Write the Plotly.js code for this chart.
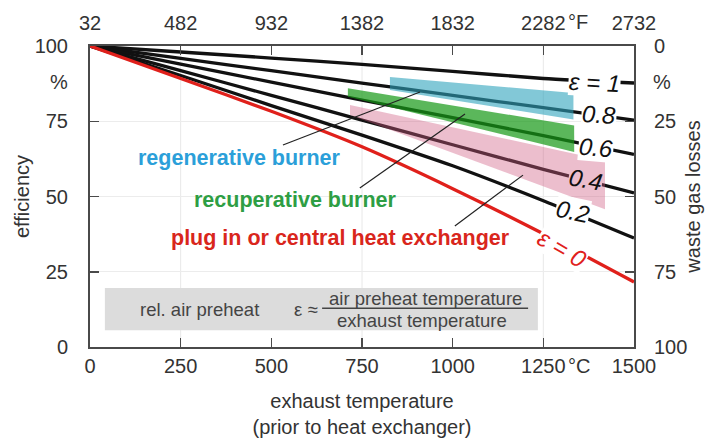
<!DOCTYPE html>
<html><head><meta charset="utf-8">
<script src="https://cdn.plot.ly/plotly-3.0.1.min.js"></script>
<style>html,body{margin:0;padding:0;background:#fff}#chart{width:721px;height:438px}</style>
</head><body><div id="chart"></div>
<script>
// ---- data ----
const tempC   = [0, 250, 500, 750, 1000, 1250, 1500];
const effEps0 = [100, 89.2, 78.3, 66.5, 52.6, 37.6, 21.6];
const effEps02= [100, 90.2, 80.2, 70.4, 60.2, 48.6, 36.2];
const effEps04= [100, 91.8, 83.6, 75.4, 67.2, 59.0, 51.2];
const effEps06= [100, 94.0, 88.0, 82.0, 76.2, 70.2, 64.0];
const effEps08= [100, 95.9, 91.8, 87.7, 83.6, 79.5, 75.4];
const effEps1 = [100, 98.0, 96.0, 93.9, 91.6, 89.2, 87.7];

const regenX = [827, 1333], regenTop = [89.7, 84.4], regenBot = [85.4, 75.6];
const recupX = [711, 1335], recupTop = [86.0, 73.6], recupBot = [83.1, 64.8];
const plugX  = [717, 1420], plugTop  = [80.4, 62.0], plugBot  = [77.1, 45.8];

const bottomTickVals = [0, 250, 500, 750, 1000, 1250, 1500];
const bottomTickText = ['0', '250', '500', '750', '1000', '1250', '1500'];
const topTickVals = [32, 482, 932, 1382, 1832, 2282, 2732];
const topTickText = ['32', '482', '932', '1382', '1832', '2282', '2732'];
const effTicks  = [0, 25, 50, 75, 100];
const lossTicks = [0, 25, 50, 75, 100];
const gridC = [250, 750, 1250];

// ---- styling ----
const FONT = 'Liberation Sans, Arial, Helvetica, sans-serif';
const TXT = '#333333';
const AX = '#4a4a4a';

function curve(y, color) {
  return {x: tempC, y: y, type: 'scatter', mode: 'lines',
    line: {color: color, width: 3.3, shape: 'spline', smoothing: 0.6},
    hoverinfo: 'skip', showlegend: false};
}
function band(xs, top, bot, fill) {
  return {x: [xs[0], xs[1], xs[1], xs[0]], y: [top[0], top[1], bot[1], bot[0]],
    type: 'scatter', mode: 'lines', fill: 'toself', fillcolor: fill,
    line: {width: 0}, hoverinfo: 'skip', showlegend: false};
}

const traces = [
  curve(effEps1, '#111111'),
  curve(effEps08, '#111111'),
  curve(effEps06, '#111111'),
  curve(effEps04, '#111111'),
  curve(effEps02, '#111111'),
  curve(effEps0, '#e0201b'),
  band(regenX, regenTop, regenBot, 'rgba(47,163,188,0.6)'),
  band(recupX, recupTop, recupBot, 'rgba(22,153,22,0.7)'),
  band(plugX, plugTop, plugBot, 'rgba(207,92,130,0.4)'),
  {x: [], y: [], xaxis: 'x2', yaxis: 'y2', type: 'scatter', mode: 'lines',
   hoverinfo: 'skip', showlegend: false}
];

const shapes = [];
gridC.forEach(v => shapes.push({type: 'line', xref: 'x', yref: 'paper', x0: v, x1: v, y0: 0, y1: 1,
  line: {color: '#e8e8e8', width: 1}, layer: 'below'}));
shapes.push({type: 'rect', xref: 'x', yref: 'y', x0: 41, x1: 1235, y0: 5.6, y1: 19.6,
  fillcolor: '#dcdcdc', line: {width: 0}, layer: 'below'});
shapes.push({type: 'line', xref: 'x', yref: 'y', x0: 640, x1: 1208, y0: 12.9, y1: 12.9,
  line: {color: '#444', width: 1.5}});
// callout lines
const callouts = [
  [532, 67.1, 910, 84.7],
  [744, 52.8, 1034, 77.4],
  [1006, 40.2, 1194, 57.1]
];
callouts.forEach(c => shapes.push({type: 'line', xref: 'x', yref: 'y', x0: c[0], y0: c[1], x1: c[2], y1: c[3],
  line: {color: '#222', width: 1.2}}));

function ann(text, x, y, opts) {
  return Object.assign({text: text, x: x, y: y, xref: 'x', yref: 'y', showarrow: false,
    font: {family: FONT, size: 20, color: TXT}}, opts || {});
}
const lblFont = {family: FONT, size: 24, color: '#111'};
const boxFont = {family: FONT, size: 18.5, color: '#444'};
const annotations = [
  // line labels
  ann('<i>ε = 1</i>', 1392, 88.0, {font: lblFont, bgcolor: '#fff', borderpad: 0, textangle: 3}),
  ann('<i>0.8</i>', 1403, 77.1, {font: lblFont, bgcolor: '#fff', borderpad: 0, textangle: 3}),
  ann('<i>0.6</i>', 1394, 66.4, {font: lblFont, bgcolor: '#fff', borderpad: 0, textangle: 5}),
  ann('<i>0.4</i>', 1367, 55.5, {font: lblFont, bgcolor: 'rgb(236,190,205)', borderpad: 0, textangle: 10}),
  ann('<i>0.2</i>', 1331, 44.9, {font: lblFont, bgcolor: '#fff', borderpad: 0, textangle: 12}),
  ann('<i>ε = 0</i>', 1301, 32.6, {font: {family: FONT, size: 24, color: '#e0201b'}, bgcolor: '#fff', borderpad: 0, textangle: 30}),
  // burner labels
  ann('<b>regenerative burner</b>', 413, 62.8, {font: {family: FONT, size: 21.5, color: '#2b9fd9'}}),
  ann('<b>recuperative burner</b>', 566, 48.8, {font: {family: FONT, size: 21.5, color: '#2e9e44'}}),
  ann('<b>plug in or central heat exchanger</b>', 692, 36.2, {font: {family: FONT, size: 21.5, color: '#d9261c'}}),
  // box texts
  ann('rel. air preheat', 303, 12.6, {font: boxFont, borderpad: 0}),
  ann('ε ≈', 596, 12.6, {font: boxFont, borderpad: 0}),
  ann('air preheat temperature', 924, 16.0, {font: boxFont, borderpad: 0}),
  ann('exhaust temperature', 915, 8.8, {font: boxFont, borderpad: 0}),
  // units
  ann('%', 0, 88, {xref: 'paper', xanchor: 'right', xshift: -20}),
  ann('%', 1, 88, {xref: 'paper', xanchor: 'left', xshift: 17}),
  ann('°C', 1250, 0, {yref: 'paper', y: 0, yanchor: 'middle', xanchor: 'left', xshift: 23, yshift: -19}),
  ann('°F', 2282, 1, {xref: 'x2', yref: 'paper', y: 1, yanchor: 'middle', xanchor: 'left', xshift: 23, yshift: 24})
];

const axBase = {showline: true, linecolor: AX, linewidth: 2, ticks: 'inside', ticklen: 9,
  tickcolor: AX, tickwidth: 1.5, zeroline: false, tickfont: {family: FONT, size: 20, color: TXT},
  fixedrange: true};

const layout = {
  width: 721, height: 438,
  margin: {l: 90, r: 87, t: 46, b: 91},
  paper_bgcolor: '#fff', plot_bgcolor: 'rgba(0,0,0,0)',
  font: {family: FONT, size: 20, color: TXT},
  showlegend: false,
  xaxis: Object.assign({}, axBase, {range: [0, 1500], tickmode: 'array', tickvals: bottomTickVals,
    ticktext: bottomTickText, showgrid: false, ticklabelstandoff: 0,
    title: {text: 'exhaust temperature<br>(prior to heat exchanger)', font: {family: FONT, size: 20, color: TXT}, standoff: 18}}),
  xaxis2: Object.assign({}, axBase, {range: [32, 2732], overlaying: 'x', side: 'top', anchor: 'y2',
    tickmode: 'array', tickvals: topTickVals, ticktext: topTickText, showgrid: false, ticklabelstandoff: 6}),
  yaxis: Object.assign({}, axBase, {range: [0, 100], tickmode: 'array', tickvals: effTicks,
    showgrid: true, gridcolor: '#ececec', gridwidth: 1, ticklabelstandoff: 16,
    title: {text: 'efficiency', font: {family: FONT, size: 20, color: TXT}, standoff: 0}}),
  yaxis2: Object.assign({}, axBase, {range: [100, 0], overlaying: 'y', side: 'right', anchor: 'x2',
    tickmode: 'array', tickvals: lossTicks, showgrid: false, ticklabelstandoff: 14,
    title: {text: 'waste gas losses', font: {family: FONT, size: 20, color: TXT}, standoff: 0}}),
  shapes: shapes,
  annotations: annotations
};

Plotly.newPlot('chart', traces, layout, {staticPlot: true, displayModeBar: false});
</script>
</body></html>
